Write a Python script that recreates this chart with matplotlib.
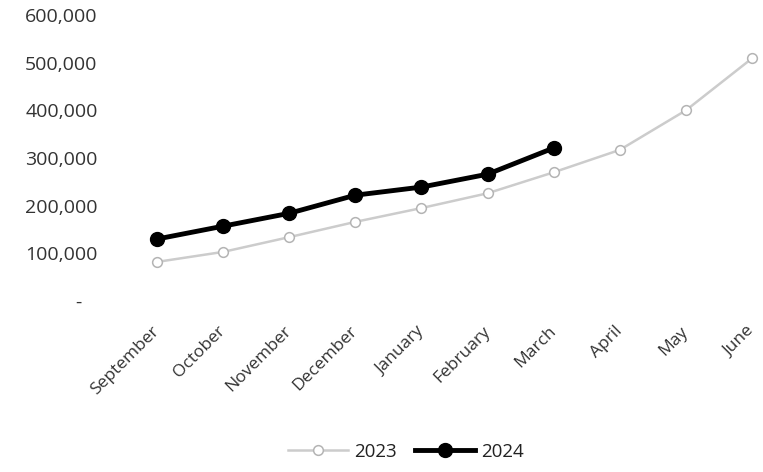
import matplotlib
matplotlib.use("Agg")
import matplotlib.pyplot as plt
from matplotlib.ticker import FuncFormatter

months = ["September", "October", "November", "December", "January",
          "February", "March", "April", "May", "June"]
sales_2023 = [82000, 103000, 134000, 166000, 195000, 226000, 270000, 317000, 400000, 509000]
sales_2024 = [130000, 157000, 184000, 222000, 239000, 266000, 321000]
y_ticks = [0, 100000, 200000, 300000, 400000, 500000, 600000]

plt.rcParams['font.family'] = ['Open Sans', 'DejaVu Sans']

W, H = 763, 472
fig = plt.figure(figsize=(W / 100, H / 100), dpi=100)
left, right, bottom, top = 124, 763, 301, 15
ax = fig.add_axes([left / W, (H - bottom) / H, (right - left) / W, (bottom - top) / H])

x23 = list(range(len(sales_2023)))
x24 = list(range(len(sales_2024)))
ax.plot(x23, sales_2023, color='#cccccc', lw=1.8, marker='o', ms=7,
        mfc='white', mec='#b4b4b4', mew=1.1, label='2023', zorder=2)
ax.plot(x24, sales_2024, color='black', lw=3.5, marker='o', ms=10,
        mfc='black', mec='black', label='2024', zorder=3)

ax.set_ylim(0, 600000)
ax.set_xlim(-0.5, 9 + (763 - 752) / 66.1)
ax.set_yticks(y_ticks)
ax.yaxis.set_major_formatter(FuncFormatter(lambda v, p: '-   ' if v == 0 else f'{int(v):,}'))
ax.set_xticks(x23)
ax.set_xticklabels(months, rotation=45, ha='right', va='center', rotation_mode='anchor')
for lab in ax.get_xticklabels():
    lab.set_fontsize(12.5)
for lab in ax.get_yticklabels():
    lab.set_fontsize(14)
ax.tick_params(axis='both', length=0, colors='#333333')
ax.tick_params(axis='y', pad=19)
ax.tick_params(axis='x', pad=20)
for s in ax.spines.values():
    s.set_visible(False)

leg = fig.legend(loc='center', bbox_to_anchor=(406 / W, (H - 452) / H), ncol=2,
                 frameon=False, fontsize=13.5, handlelength=3.2, columnspacing=1.0,
                 handletextpad=0.3)
for t in leg.get_texts():
    t.set_color('#222222')

fig.savefig('out.png', dpi=100)
